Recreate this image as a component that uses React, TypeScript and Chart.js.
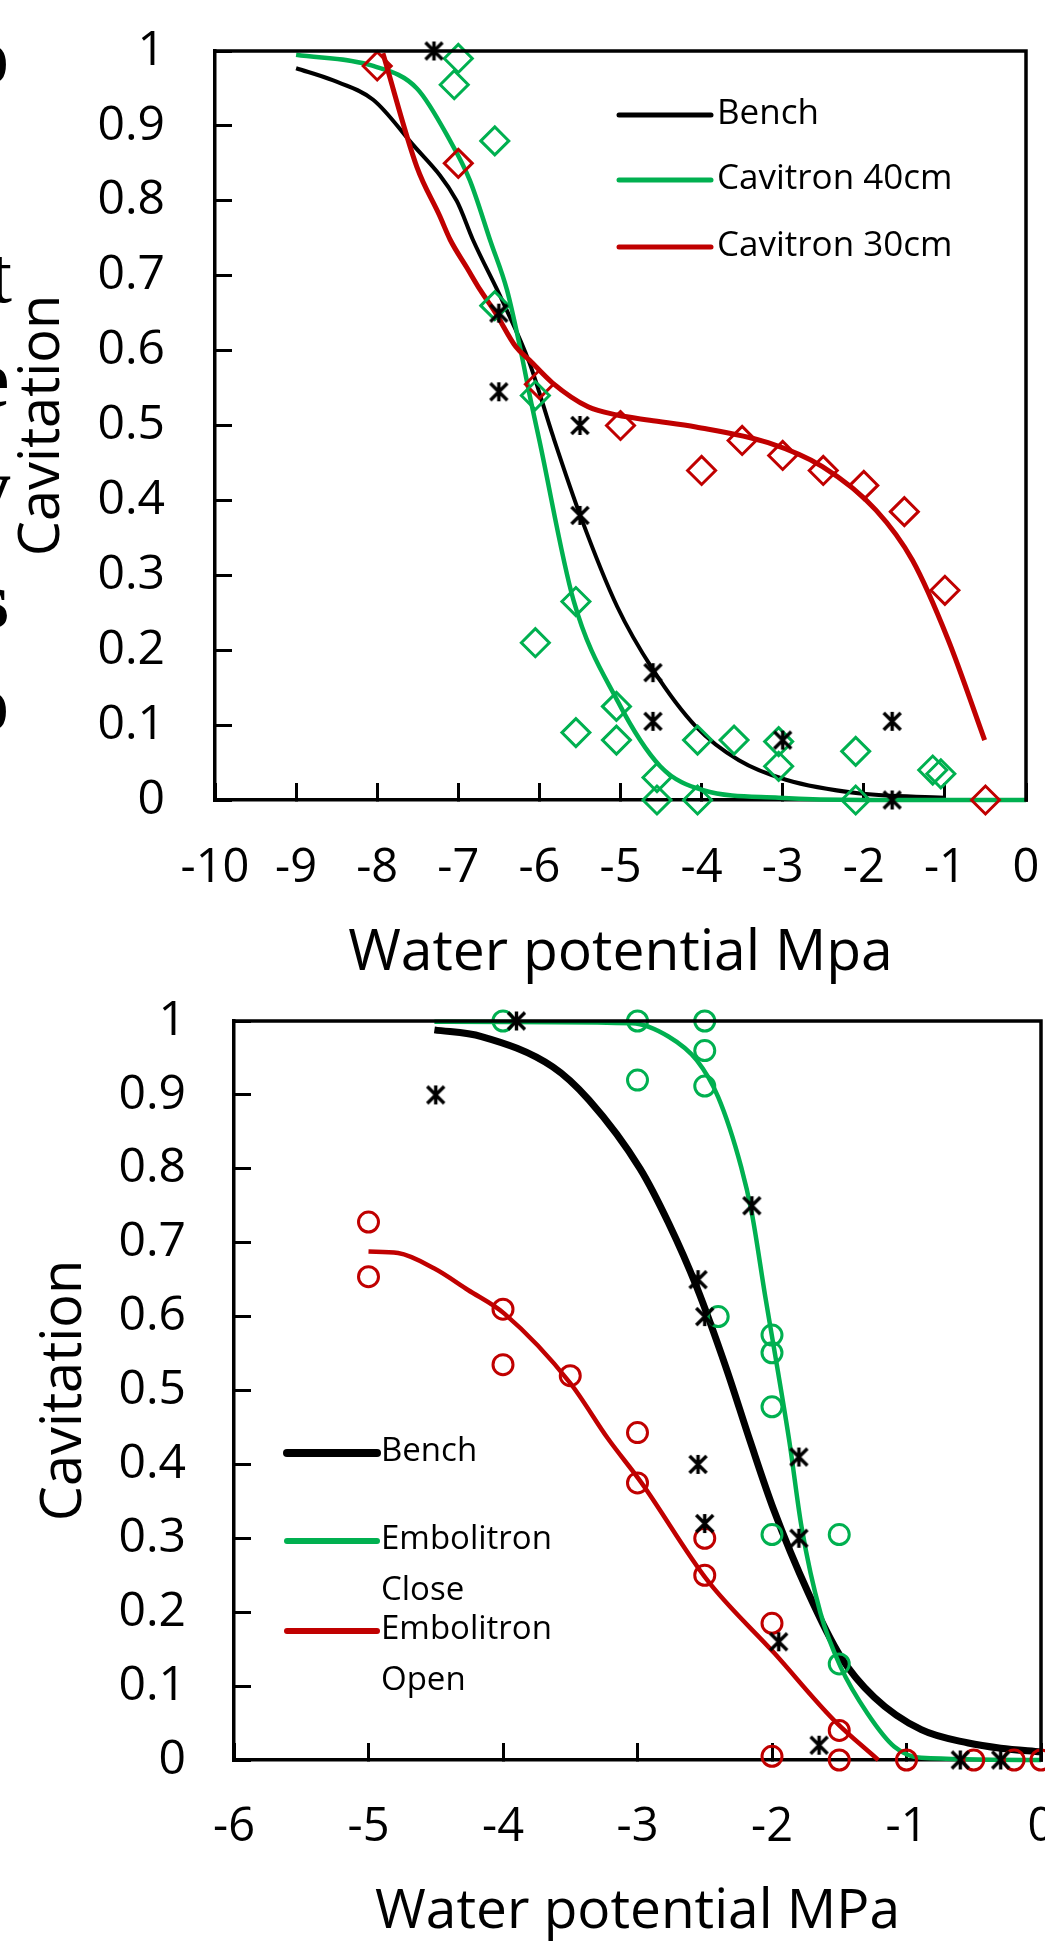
import React, { useEffect, useRef } from 'react';
import { Chart, registerables } from 'chart.js';

Chart.register(...registerables);

// ---------------- colours / fonts ----------------
const BLACK = '#000000';
const GREEN = '#00B050';
const RED = '#C00000';
const SANS = '"Open Sans", "Noto Sans", sans-serif';

// ---------------- tick labels ----------------
const yTickLabels = ['0', '0.1', '0.2', '0.3', '0.4', '0.5', '0.6', '0.7', '0.8', '0.9', '1'];
const topXTickLabels = ['-10', '-9', '-8', '-7', '-6', '-5', '-4', '-3', '-2', '-1', '0'];
const botXTickLabels = ['-6', '-5', '-4', '-3', '-2', '-1', '0'];

// ---------------- top panel: measured points ----------------
const topBenchX = [-7.3, -6.5, -6.5, -5.5, -5.5, -4.6, -4.6, -3.0, -1.65, -1.65];
const topBenchY = [1.0, 0.65, 0.545, 0.5, 0.38, 0.17, 0.105, 0.08, 0.105, 0.0];

const cav40X = [-7.0, -7.05, -6.55, -6.55, -6.05, -6.05, -5.55, -5.55, -5.05, -5.05, -4.55, -4.55, -4.05, -4.05, -3.6, -3.05, -3.05, -2.1, -2.1, -1.15, -1.05];
const cav40Y = [0.99, 0.955, 0.88, 0.66, 0.54, 0.21, 0.265, 0.09, 0.125, 0.08, 0.03, 0.0, 0.08, 0.0, 0.08, 0.078, 0.045, 0.065, 0.0, 0.04, 0.035];

const cav30X = [-8.0, -7.0, -6.0, -5.0, -4.0, -3.5, -3.0, -2.5, -2.0, -1.5, -1.0, -0.5];
const cav30Y = [0.98, 0.85, 0.555, 0.5, 0.44, 0.48, 0.46, 0.44, 0.42, 0.385, 0.28, 0.0];

// ---------------- top panel: fitted curves ----------------
const topBenchFitX = [-9.0, -8.55, -8.05, -7.6, -7.02, -6.82, -6.45, -6.12, -5.83, -5.49, -5.04, -4.6, -4.07, -3.54, -2.96, -2.07, -1.0];
const topBenchFitY = [0.977, 0.961, 0.935, 0.88, 0.8, 0.748, 0.665, 0.583, 0.485, 0.378, 0.258, 0.174, 0.098, 0.053, 0.027, 0.009, 0.003];

const cav40FitX = [-9.0, -8.05, -7.51, -7.1, -6.86, -6.6, -6.4, -6.24, -6.1, -6.0, -5.58, -5.04, -4.51, -3.98, -3.05, -2.0, 0.0];
const cav40FitY = [0.995, 0.98, 0.95, 0.88, 0.828, 0.745, 0.681, 0.605, 0.53, 0.48, 0.267, 0.133, 0.045, 0.013, 0.003, 0.0, 0.0];

const cav30FitX = [-7.93, -7.51, -7.23, -7.1, -6.89, -6.73, -6.55, -6.29, -6.12, -5.84, -5.4, -5.04, -4.64, -4.07, -3.18, -2.51, -1.85, -1.4, -0.96, -0.51];
const cav30FitY = [0.997, 0.845, 0.78, 0.748, 0.71, 0.681, 0.652, 0.605, 0.587, 0.557, 0.525, 0.514, 0.507, 0.498, 0.477, 0.445, 0.387, 0.32, 0.214, 0.08];

// ---------------- bottom panel: measured points ----------------
const botBenchX = [-4.5, -3.9, -2.15, -2.55, -2.5, -2.55, -2.5, -1.8, -1.8, -1.95, -1.65, -0.6, -0.3];
const botBenchY = [0.9, 1.0, 0.75, 0.65, 0.6, 0.4, 0.32, 0.41, 0.3, 0.16, 0.02, 0.0, 0.0];

const closeX = [-4.0, -3.0, -3.0, -2.5, -2.5, -2.5, -2.4, -2.0, -2.0, -2.0, -2.0, -1.5, -1.5];
const closeY = [1.0, 1.0, 0.92, 1.0, 0.96, 0.912, 0.6, 0.575, 0.551, 0.478, 0.305, 0.305, 0.13];

const openX = [-5.0, -5.0, -4.0, -4.0, -3.5, -3.0, -3.0, -2.5, -2.5, -2.0, -2.0, -1.5, -1.5, -1.0, -0.5, -0.2, 0.0];
const openY = [0.728, 0.654, 0.61, 0.535, 0.52, 0.443, 0.375, 0.3, 0.25, 0.185, 0.005, 0.04, 0.0, 0.0, 0.0, 0.0, 0.0];

// ---------------- bottom panel: fitted curves ----------------
const botBenchFitX = [-4.51, -4.16, -3.63, -3.36, -2.98, -2.77, -2.56, -2.34, -2.16, -1.99, -1.73, -1.49, -1.24, -0.89, -0.54, -0.3, 0.0];
const botBenchFitY = [0.988, 0.979, 0.938, 0.893, 0.8, 0.727, 0.64, 0.53, 0.43, 0.34, 0.226, 0.14, 0.085, 0.041, 0.023, 0.016, 0.011];

const closeFitX = [-4.51, -3.04, -2.77, -2.56, -2.4, -2.23, -2.15, -2.05, -1.97, -1.87, -1.78, -1.64, -1.49, -1.29, -1.09, -0.89, 0.0];
const closeFitY = [0.999, 0.997, 0.979, 0.947, 0.897, 0.803, 0.74, 0.627, 0.541, 0.43, 0.315, 0.199, 0.126, 0.063, 0.018, 0.003, 0.0];

const openFitX = [-5.0, -4.78, -4.51, -4.26, -3.99, -3.5, -3.22, -2.97, -2.48, -1.98, -1.54, -1.21];
const openFitY = [0.688, 0.686, 0.665, 0.636, 0.604, 0.51, 0.435, 0.375, 0.243, 0.144, 0.054, 0.0];

// ---------------- legends ----------------
const topLegendLabels = [['Bench'], ['Cavitron 40cm'], ['Cavitron 30cm']];
const botLegendLabels = [['Bench'], ['Embolitron', 'Close'], ['Embolitron', 'Open']];

// Cut-off characters of neighbouring page text at the left edge
const edgeChars = ['o', 't', 'e', 'y', 's', 'o'];
const edgeBold = [true, false, true, true, true, true];
const edgeLayout = [
  { baseline: 83, right: 9 },
  { baseline: 302, right: 12 },
  { baseline: 406, right: 9 },
  { baseline: 514, right: 11 },
  { baseline: 627, right: 9 },
  { baseline: 730, right: 9 },
];

function xy(xs: number[], ys: number[]) {
  return xs.map((x, i) => ({ x, y: ys[i] }));
}

function makeAsterisk(color: string) {
  const s = 23;
  const c = document.createElement('canvas');
  c.width = s;
  c.height = s;
  const ctx = c.getContext('2d') as CanvasRenderingContext2D;
  ctx.strokeStyle = color;
  ctx.lineWidth = 3.4;
  const p = 3;
  ctx.beginPath();
  ctx.moveTo(p, p);
  ctx.lineTo(s - p, s - p);
  ctx.moveTo(s - p, p);
  ctx.lineTo(p, s - p);
  ctx.moveTo(s / 2, p - 1);
  ctx.lineTo(s / 2, s - p + 1);
  ctx.stroke();
  return c;
}

function curve(label: string, xs: number[], ys: number[], color: string, width: number, order: number) {
  return {
    label,
    data: xy(xs, ys),
    showLine: true,
    borderColor: color,
    backgroundColor: color,
    borderWidth: width,
    pointRadius: 0,
    pointHoverRadius: 0,
    cubicInterpolationMode: 'monotone',
    tension: 0.4,
    fill: false,
    order,
    clip: false,
  };
}

function marks(label: string, xs: number[], ys: number[], color: string, style: any, radius: number, order: number) {
  return {
    label,
    data: xy(xs, ys),
    showLine: false,
    pointStyle: style,
    pointRadius: radius,
    pointHoverRadius: radius,
    pointBorderWidth: 3,
    pointBorderColor: color,
    pointBackgroundColor: 'rgba(0,0,0,0)',
    borderColor: color,
    backgroundColor: 'rgba(0,0,0,0)',
    order,
    clip: false,
  };
}

interface LegendSpec {
  x1: number;
  x2: number;
  textX: number;
  rows: number[];
  lineGap: number;
  colors: string[];
  widths: number[];
  labels: string[][];
  fontSize: number;
}

function framePlugin(legend: LegendSpec) {
  return {
    id: 'frameAndLegend',
    afterDraw(chart: any) {
      const { ctx, chartArea } = chart;
      const { left, top, right, bottom } = chartArea;
      ctx.save();
      ctx.strokeStyle = BLACK;
      ctx.lineWidth = 3.5;
      ctx.lineCap = 'butt';
      ctx.beginPath();
      ctx.moveTo(left - 1.75, top);
      ctx.lineTo(right, top);
      ctx.lineTo(right, bottom + 1.75);
      ctx.stroke();

      ctx.font = `${legend.fontSize}px ${SANS}`;
      ctx.textBaseline = 'middle';
      ctx.textAlign = 'left';
      ctx.fillStyle = BLACK;
      legend.rows.forEach((y, i) => {
        ctx.strokeStyle = legend.colors[i];
        ctx.lineWidth = legend.widths[i];
        ctx.lineCap = 'round';
        ctx.beginPath();
        ctx.moveTo(legend.x1, y);
        ctx.lineTo(legend.x2, y);
        ctx.stroke();
        legend.labels[i].forEach((t, k) => {
          ctx.fillText(t, legend.textX, y - 1 + k * legend.lineGap);
        });
      });
      ctx.restore();
    },
  };
}

function fixBox(dim: 'width' | 'height', value: number) {
  return (s: any) => {
    s[dim] = value;
    s.paddingTop = 0;
    s.paddingBottom = 0;
    s.paddingLeft = 0;
    s.paddingRight = 0;
  };
}

function axis(tickSize: number, pad: number, step: number, labels: (v: number) => string) {
  return {
    type: 'linear',
    grid: {
      display: true,
      drawOnChartArea: false,
      drawTicks: true,
      tickLength: -17,
      color: BLACK,
      tickColor: BLACK,
      lineWidth: 3,
      tickWidth: 3,
    },
    border: { display: true, color: BLACK, width: 3.5 },
    ticks: {
      color: BLACK,
      padding: pad,
      stepSize: step,
      font: { family: SANS, size: tickSize, lineHeight: 1 },
      maxRotation: 0,
      minRotation: 0,
      autoSkip: false,
      callback: (v: any) => labels(Number(v)),
    },
  };
}

function buildTop() {
  const star = makeAsterisk(BLACK);
  return {
    type: 'scatter',
    data: {
      datasets: [
        marks('Bench data', topBenchX, topBenchY, BLACK, star, 11, 1),
        marks('Cavitron 40cm data', cav40X, cav40Y, GREEN, 'rectRot', 14, 2),
        marks('Cavitron 30cm data', cav30X, cav30Y, RED, 'rectRot', 14, 3),
        curve('Bench', topBenchFitX, topBenchFitY, BLACK, 4, 6),
        curve('Cavitron 40cm', cav40FitX, cav40FitY, GREEN, 4.5, 5),
        curve('Cavitron 30cm', cav30FitX, cav30FitY, RED, 5, 4),
      ],
    },
    options: {
      animation: false,
      responsive: false,
      maintainAspectRatio: false,
      events: [],
      layout: { padding: { left: 0, top: 51, right: 74, bottom: 12.5 } },
      plugins: { legend: { display: false }, tooltip: { enabled: false }, title: { display: false } },
      scales: {
        x: {
          ...axis(47, 62.1, 1, (v) => topXTickLabels[Math.round(v) + 10] ?? ''),
          position: 'bottom',
          min: -10,
          max: 0,
          title: {
            display: true,
            text: 'Water potential Mpa',
            color: BLACK,
            font: { family: SANS, size: 57, lineHeight: 1 },
            padding: { top: 0, bottom: 0 },
          },
          afterFit: fixBox('height', 182.5),
        },
        y: {
          ...axis(48, 67, 0.1, (v) => yTickLabels[Math.round(v * 10)] ?? ''),
          position: 'left',
          min: 0,
          max: 1,
          title: {
            display: true,
            text: 'Cavitation',
            color: BLACK,
            font: { family: SANS, size: 56, lineHeight: 1 },
            padding: { top: 15.3, bottom: 0 },
          },
          afterFit: fixBox('width', 215),
        },
      },
    },
    plugins: [
      framePlugin({
        x1: 619,
        x2: 711,
        textX: 717,
        rows: [115, 180, 247],
        lineGap: 0,
        colors: [BLACK, GREEN, RED],
        widths: [5, 5, 5],
        labels: topLegendLabels,
        fontSize: 35,
      }),
    ],
  };
}

function buildBottom() {
  const star = makeAsterisk(BLACK);
  return {
    type: 'scatter',
    data: {
      datasets: [
        marks('Bench data', botBenchX, botBenchY, BLACK, star, 11, 1),
        marks('Embolitron Close data', closeX, closeY, GREEN, 'circle', 10, 2),
        marks('Embolitron Open data', openX, openY, RED, 'circle', 10, 3),
        curve('Bench', botBenchFitX, botBenchFitY, BLACK, 7, 6),
        curve('Embolitron Close', closeFitX, closeFitY, GREEN, 4.5, 5),
        curve('Embolitron Open', openFitX, openFitY, RED, 4.5, 4),
      ],
    },
    options: {
      animation: false,
      responsive: false,
      maintainAspectRatio: false,
      events: [],
      layout: { padding: { left: 0, top: 31, right: 59, bottom: 4.2 } },
      plugins: { legend: { display: false }, tooltip: { enabled: false }, title: { display: false } },
      scales: {
        x: {
          ...axis(47, 61.1, 1, (v) => botXTickLabels[Math.round(v) + 6] ?? ''),
          position: 'bottom',
          min: -6,
          max: 0,
          title: {
            display: true,
            text: 'Water potential MPa',
            color: BLACK,
            font: { family: SANS, size: 55, lineHeight: 1 },
            padding: { top: 0, bottom: 0 },
          },
          afterFit: fixBox('height', 179.8),
        },
        y: {
          ...axis(48, 65, 0.1, (v) => yTickLabels[Math.round(v * 10)] ?? ''),
          position: 'left',
          min: 0,
          max: 1,
          title: {
            display: true,
            text: 'Cavitation',
            color: BLACK,
            font: { family: SANS, size: 56, lineHeight: 1 },
            padding: { top: 37.3, bottom: 0 },
          },
          afterFit: fixBox('width', 234),
        },
      },
    },
    plugins: [
      framePlugin({
        x1: 287,
        x2: 377,
        textX: 381,
        rows: [463, 551, 641],
        lineGap: 51,
        colors: [BLACK, GREEN, RED],
        widths: [8, 6, 6],
        labels: botLegendLabels,
        fontSize: 33,
      }),
    ],
  };
}

export default function App() {
  const topRef = useRef<HTMLCanvasElement | null>(null);
  const botRef = useRef<HTMLCanvasElement | null>(null);

  useEffect(() => {
    const c1 = new Chart(topRef.current as HTMLCanvasElement, buildTop() as any);
    const c2 = new Chart(botRef.current as HTMLCanvasElement, buildBottom() as any);
    return () => {
      c1.destroy();
      c2.destroy();
    };
  }, []);

  return (
    <div
      style={{
        position: 'absolute',
        left: 0,
        top: 0,
        width: 1045,
        height: 1944,
        overflow: 'hidden',
        background: '#ffffff',
      }}
    >
      {edgeChars.map((ch, i) => (
        <div
          key={i}
          style={{
            position: 'absolute',
            left: edgeLayout[i].right - 200,
            width: 200,
            top: edgeLayout[i].baseline - 67,
            height: 80,
            textAlign: 'right',
            fontFamily: '"Liberation Serif", "DejaVu Serif", serif',
            fontWeight: edgeBold[i] ? 700 : 400,
            fontSize: 80,
            lineHeight: '80px',
            color: '#000',
            whiteSpace: 'nowrap',
          }}
        >
          {ch}
        </div>
      ))}
      <canvas
        ref={topRef}
        width={1100}
        height={995}
        style={{ position: 'absolute', left: 0, top: 0, width: 1100, height: 995 }}
      />
      <canvas
        ref={botRef}
        width={1100}
        height={954}
        style={{ position: 'absolute', left: 0, top: 990, width: 1100, height: 954 }}
      />
    </div>
  );
}
